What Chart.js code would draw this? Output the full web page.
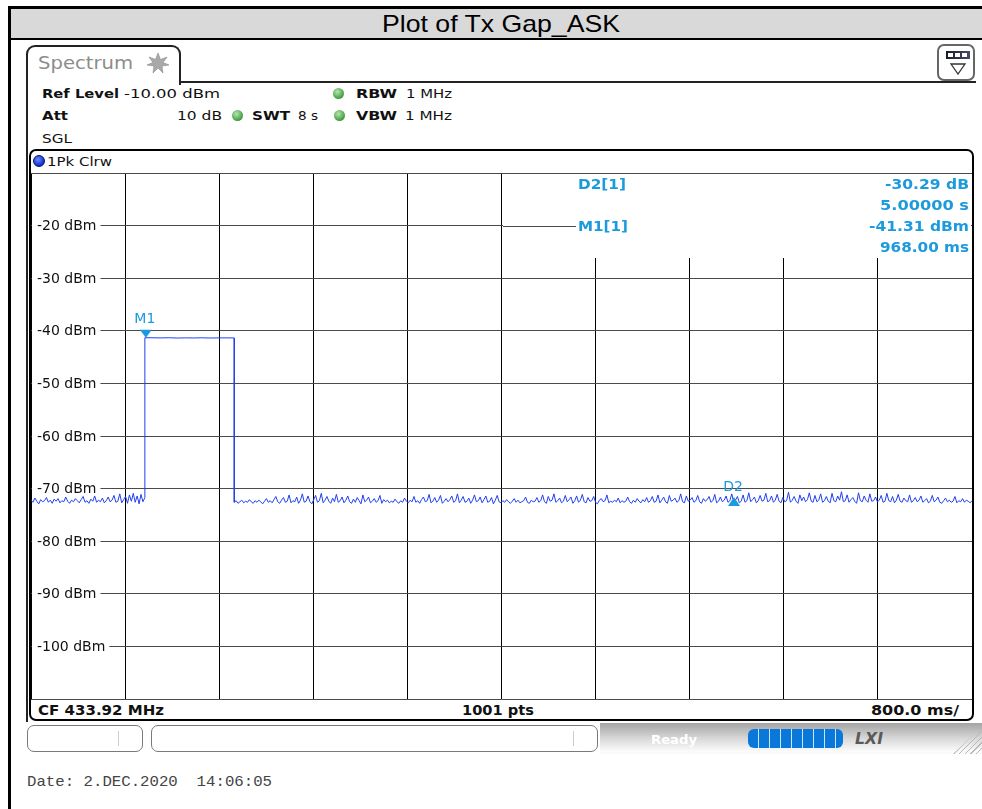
<!DOCTYPE html>
<html><head><meta charset="utf-8">
<script src="https://cdn.jsdelivr.net/npm/chart.js@4/dist/chart.umd.min.js"></script>
<style>
html,body{margin:0;padding:0;background:#fff;width:982px;height:809px;overflow:hidden;position:relative;font-family:"DejaVu Sans",sans-serif;}
.a{position:absolute;white-space:nowrap;}
.t{white-space:pre;}
.dot{position:absolute;width:11px;height:11px;border-radius:50%;background:radial-gradient(circle at 40% 35%,#b6e6b0,#3f9c3f 70%,#2f7a2f);}
</style></head><body>
<div class="a" style="left:8px;top:6px;width:990px;height:820px;border-left:3px solid #000;border-top:3px solid #000;"></div>
<div class="a" style="left:11px;top:9px;width:975px;height:29px;background:#d9d9d9;border-bottom:2px solid #000;"></div>

<div class="a" style="left:26px;top:45px;width:151px;height:38px;border:2px solid #222;border-bottom:none;border-radius:9px 9px 0 0;"></div>
<div class="a" style="left:180px;top:81px;width:796px;height:2px;background:#222;"></div>
<div class="a" style="left:26px;top:82px;width:2px;height:640px;background:#222;"></div>
<svg class="a" style="left:146px;top:52px" width="24" height="22" viewBox="0 0 24 22">
<polygon points="12,1 14.5,7.5 21,5 17,10.5 23,13 16,14 17,21 12,16 7,21 8,14 1,13 7,10.5 3,5 9.5,7.5" fill="#a9a9a9" stroke="#8a8a8a" stroke-width="0.6"/></svg>

<div class="a" style="left:937px;top:44px;width:34px;height:33px;border:2px solid #666;border-radius:7px;background:#fff;"></div>
<div class="a" style="left:946px;top:51px;width:24px;height:8px;background:linear-gradient(90deg,#1a1a2a,#4a4a66);"></div>
<div class="a" style="left:948px;top:53px;width:5px;height:4px;background:#fff;"></div>
<div class="a" style="left:955px;top:53px;width:5px;height:4px;background:#fff;"></div>
<div class="a" style="left:962px;top:53px;width:5px;height:4px;background:#fff;"></div>
<svg class="a" style="left:949px;top:62px" width="18" height="13"><polygon points="2,2 16,2 9,12" fill="#fff" stroke="#333" stroke-width="1.3"/></svg>

<div class="dot" style="left:333px;top:88px;"></div>
<div class="dot" style="left:232px;top:110px;"></div>
<div class="dot" style="left:334px;top:110px;"></div>

<div class="a" style="left:29px;top:149px;width:941px;height:568px;border:2px solid #000;border-radius:7px;"></div>
<div class="a" style="left:33px;top:155px;border-radius:50%;background:radial-gradient(circle at 40% 35%,#6f8bff,#1433d6 65%,#0a1c80);border:1px solid #081660;box-sizing:border-box;width:12px;height:12px;"></div>

<div class="a" style="left:24px;top:723px;width:958px;height:31px;background:linear-gradient(to bottom,#a4a4a4,#d8d8d8 50%,#fafafa 90%);"></div>
<div class="a" style="left:24px;top:723px;width:576px;height:31px;background:#fff;"></div>
<div class="a" style="left:27px;top:725px;width:114px;height:25px;border:1.5px solid #7a7a7a;border-radius:7px;background:#fff;"></div>
<div class="a" style="left:118px;top:731px;width:1px;height:15px;background:#ccc;"></div>
<div class="a" style="left:151px;top:725px;width:445px;height:25px;border:1.5px solid #7a7a7a;border-radius:7px;background:#fff;"></div>
<div class="a" style="left:573px;top:731px;width:1px;height:15px;background:#ccc;"></div>
<div class="a" style="left:748px;top:729px;width:95px;height:19px;border-radius:6px;background:repeating-linear-gradient(90deg,#0a78d8 0px,#0a78d8 9.8px,#cfe4f7 9.8px,#cfe4f7 11px);"></div>
<div class="a" style="left:953px;top:727px;width:29px;height:27px;background:repeating-linear-gradient(135deg,transparent 0px,transparent 3px,#b8b8b8 3px,#b8b8b8 4px);clip-path:polygon(100% 0,100% 100%,0 100%);"></div>

<div class="a" style="left:31px;top:173px;width:942px;height:527px;z-index:1;line-height:0;"><canvas id="c" width="942" height="527" style="display:block;width:942px;height:527px;"></canvas></div>

<script>
// ---- data ----
const yTickValues = [-20, -30, -40, -50, -60, -70, -80, -90, -100];
const yTickLabels = ['-20 dBm','-30 dBm','-40 dBm','-50 dBm','-60 dBm','-70 dBm','-80 dBm','-90 dBm','-100 dBm'];
const sweepStartS = 0;
const sweepEndS = 8.0;
const refLevelDbm = -10;
const bottomLevelDbm = -110;
const segmentStarts = [0, 0.968, 1.728];
const segmentEnds   = [0.968, 1.728, 8.0];
const preGapLevels = [
-72.2,-72.6,-71.8,-72.4,-72.9,-72.1,-72.5,-72.3,-71.7,-72.6,-72.2,-72.8,-72.0,-72.4,-71.9,-72.7,-72.3,-72.5,-71.6,-72.4,
-72.8,-72.2,-72.5,-71.9,-72.3,-72.7,-72.1,-71.5,-72.6,-72.3,-72.8,-72.0,-72.4,-71.4,-72.6,-72.2,-72.5,-71.8,-72.7,-72.3,
-71.6,-72.5,-72.2,-71.3,-72.6,-72.4,-71.0,-72.7,-72.1,-71.5,-72.8,-71.2,-72.4,-70.9,-72.6,-71.4,-72.9,-71.1,-72.5,-71.7];
const burstLevels = [-41.31,-41.33,-41.35,-41.32,-41.38,-41.34,-41.36,-41.33,-41.37,-41.35,-41.34,-41.36];
const postGapLevels = [
-72.6,-72.3,-72.8,-72.5,-72.2,-72.7,-72.4,-72.6,-72.1,-72.5,-72.8,-72.3,-72.6,-72.2,-72.5,-72.9,-72.4,-71.9,-72.6,-72.3,
-72.7,-72.1,-71.5,-72.5,-72.8,-72.2,-71.7,-72.6,-72.4,-71.2,-72.7,-72.3,-72.5,-71.6,-72.8,-72.2,-71.0,-72.6,-72.4,-71.4,
-72.5,-72.9,-72.1,-71.3,-72.6,-72.3,-70.9,-72.7,-72.2,-71.5,-72.4,-72.8,-71.8,-72.5,-71.1,-72.6,-72.3,-71.6,-72.7,-72.2,
-71.4,-72.5,-72.8,-72.0,-72.6,-71.7,-72.3,-72.9,-71.2,-72.5,-72.2,-71.6,-72.7,-72.4,-71.9,-72.6,-72.3,-71.3,-72.8,-72.1,
-72.5,-72.2,-72.7,-72.4,-72.6,-72.0,-72.5,-72.8,-72.3,-72.6,-71.8,-72.4,-72.7,-72.2,-72.5,-71.5,-72.6,-72.3,-72.8,-72.1,
-71.6,-72.5,-72.3,-71.1,-72.7,-72.4,-71.7,-72.6,-72.2,-71.3,-72.8,-72.4,-71.9,-72.5,-72.1,-71.4,-72.6,-72.3,-71.0,-72.7,
-72.2,-71.5,-72.6,-72.4,-71.8,-72.8,-72.2,-71.2,-72.5,-72.3,-71.6,-72.7,-72.1,-71.4,-72.6,-72.4,-71.7,-72.9,-72.2,-71.3,
-72.5,-72.7,-72.3,-72.6,-72.1,-72.5,-72.8,-72.4,-71.9,-72.6,-72.2,-72.7,-72.5,-72.3,-71.6,-72.6,-72.8,-72.2,-72.5,-72.4,
-71.7,-72.6,-72.3,-71.2,-72.5,-72.8,-71.5,-72.4,-72.2,-71.0,-72.6,-72.3,-71.8,-72.7,-72.4,-71.3,-72.5,-72.1,-71.6,-72.8,
-72.3,-71.4,-72.6,-72.2,-71.1,-72.5,-72.7,-71.7,-72.4,-72.3,-71.5,-72.6,-72.9,-72.2,-71.9,-72.5,-72.3,-71.2,-72.7,-72.4,
-72.6,-72.2,-72.5,-71.8,-72.7,-72.3,-72.6,-72.4,-71.6,-72.5,-72.8,-72.2,-72.6,-71.9,-72.4,-72.7,-72.1,-72.5,-71.7,-72.6,
-72.3,-71.5,-72.6,-72.4,-71.2,-72.7,-72.2,-71.6,-72.5,-72.8,-71.3,-72.4,-72.2,-71.8,-72.6,-72.3,-71.0,-72.5,-72.7,-71.4,
-72.4,-72.2,-71.7,-72.6,-72.3,-71.3,-72.5,-72.8,-71.9,-72.4,-72.1,-71.5,-72.6,-72.3,-71.1,-72.7,-72.4,-71.6,-72.5,-72.2,
-71.4,-72.6,-72.3,-71.0,-72.5,-72.2,-71.5,-72.7,-72.4,-71.2,-72.6,-72.3,-70.8,-72.5,-72.1,-71.6,-72.7,-72.3,-71.3,-72.4,
-72.2,-70.9,-72.5,-72.3,-71.4,-72.6,-72.2,-71.1,-72.4,-72.7,-71.7,-72.5,-72.3,-70.7,-72.6,-72.2,-71.5,-72.4,-72.8,-71.2,
-72.3,-71.6,-72.5,-72.1,-70.8,-72.4,-72.6,-71.3,-72.5,-72.2,-71.0,-72.6,-72.3,-71.5,-72.4,-72.7,-70.9,-72.3,-72.5,-71.4,
-72.2,-70.6,-72.5,-72.3,-71.2,-72.6,-72.1,-71.7,-72.4,-72.8,-70.8,-72.3,-72.5,-71.4,-72.2,-72.6,-71.0,-72.4,-72.3,-71.6,
-72.5,-72.2,-71.3,-72.6,-72.4,-70.9,-72.3,-72.5,-71.5,-72.7,-72.2,-71.1,-72.4,-72.6,-71.8,-72.3,-72.5,-71.2,-72.6,-72.3,
-71.7,-72.5,-72.2,-71.4,-72.6,-72.3,-71.9,-72.7,-72.4,-71.3,-72.5,-72.2,-71.6,-72.6,-72.8,-72.3,-71.8,-72.5,-72.2,-72.6,
-72.4,-71.5,-72.7,-72.3,-72.5,-71.9,-72.6,-72.2,-72.4,-72.7,-72.3];
const markerNames = ['M1', 'D2'];
const markerTimesS = [0.968, 5.968];
const markerLevelsDbm = [-41.31, -71.60];
const readoutNames = ['D2[1]', 'M1[1]'];
const readoutValues = ['-30.29 dB', '-41.31 dBm'];
const readoutTimes = ['5.00000 s', '968.00 ms'];

// ---- build trace points ----
const segLevels = [preGapLevels, burstLevels, postGapLevels];
const tracePoints = [];
segLevels.forEach((arr, s) => {
  const n = arr.length;
  arr.forEach((v, i) => {
    tracePoints.push({x: segmentStarts[s] + (segmentEnds[s] - segmentStarts[s]) * i / (n - 1), y: v});
  });
});

const markerColor = '#1c9ade';

function fitText(ctx, txt, x, y, w, align) {
  const m = ctx.measureText(txt).width;
  ctx.save();
  ctx.translate(align === 'right' ? x - w : x, y);
  ctx.scale(w / m, 1);
  ctx.textAlign = 'left';
  ctx.fillText(txt, 0, 0);
  ctx.restore();
}

const overlay = {
  id: 'overlay',
  beforeDatasetsDraw(chart) {
    const {ctx, chartArea: a, scales: {x, y}} = chart;
    ctx.save();
    ctx.font = '14px "DejaVu Sans"';
    ctx.textBaseline = 'middle';
    yTickValues.forEach((v, i) => {
      const py = y.getPixelForValue(v);
      const w = ctx.measureText(yTickLabels[i]).width;
      ctx.fillStyle = '#fff';
      ctx.fillRect(a.left + 1, py - 8, 5 + w + 4, 16);
      ctx.fillStyle = '#111';
      ctx.fillText(yTickLabels[i], a.left + 6, py + 1);
    });
    // marker readout area
    const bx = Math.round(x.getPixelForValue(4.0)) + 1;
    ctx.fillStyle = '#fff';
    ctx.fillRect(bx, a.top + 1, a.right - 1 - bx, 84);
    const y20 = Math.round(y.getPixelForValue(-20)) + 0.5;
    ctx.strokeStyle = '#4a4a4a'; ctx.lineWidth = 1;
    ctx.beginPath(); ctx.moveTo(bx, y20); ctx.lineTo(a.left + 545, y20); ctx.stroke();
    ctx.fillStyle = markerColor;
    ctx.font = 'bold 14px "DejaVu Sans"';
    const rows = [12, 33, 54, 75];
    fitText(ctx, readoutNames[0], a.left + 547, a.top + rows[0], 48);
    fitText(ctx, readoutValues[0], a.right - 3, a.top + rows[0], 84, 'right');
    fitText(ctx, readoutTimes[0], a.right - 3, a.top + rows[1], 89, 'right');
    fitText(ctx, readoutNames[1], a.left + 547, a.top + rows[2], 50);
    fitText(ctx, readoutValues[1], a.right - 3, a.top + rows[2], 100, 'right');
    fitText(ctx, readoutTimes[1], a.right - 3, a.top + rows[3], 89, 'right');
    ctx.restore();
  },
  afterDatasetsDraw(chart) {
    const {ctx, scales: {x, y}} = chart;
    ctx.save();
    ctx.fillStyle = markerColor;
    ctx.font = '14px "DejaVu Sans"';
    ctx.textBaseline = 'middle';
    ctx.textAlign = 'center';
    markerNames.forEach((name, i) => {
      const px = x.getPixelForValue(markerTimesS[i]) + 1;
      const py = y.getPixelForValue(markerLevelsDbm[i]);
      ctx.beginPath();
      if (name === 'M1') {
        ctx.moveTo(px, py); ctx.lineTo(px - 6, py - 8); ctx.lineTo(px + 6, py - 8);
        ctx.closePath(); ctx.fill();
        ctx.fillText(name, px - 1, py - 18);
      } else {
        ctx.moveTo(px, py); ctx.lineTo(px - 6, py + 9); ctx.lineTo(px + 6, py + 9);
        ctx.closePath(); ctx.fill();
        ctx.fillText(name, px - 1, py - 10);
      }
    });
    ctx.restore();
  }
};

new Chart(document.getElementById('c'), {
  type: 'line',
  data: {
    datasets: [{
      data: tracePoints,
      borderColor: '#2040f0',
      borderWidth: 1,
      pointRadius: 0,
      tension: 0,
      fill: false
    }]
  },
  options: {
    responsive: false,
    animation: false,
    events: [],
    layout: {padding: {left: 0, top: 0, right: 1, bottom: 1}},
    plugins: {legend: {display: false}, tooltip: {enabled: false}},
    scales: {
      x: {
        type: 'linear', min: sweepStartS, max: sweepEndS,
        ticks: {display: false, stepSize: 0.8},
        grid: {color: '#000', drawTicks: false, lineWidth: 1},
        border: {display: false},
        afterFit(s) { s.height = 0; }
      },
      y: {
        min: bottomLevelDbm, max: refLevelDbm,
        ticks: {display: false, stepSize: 10},
        grid: {color: '#4a4a4a', drawTicks: false, lineWidth: 1},
        border: {display: false},
        afterFit(s) { s.width = 0; }
      }
    }
  },
  plugins: [overlay]
});

// ---- HTML text, scaled to the reference widths ----
function T(txt, left, cy, width, font, color, align) {
  const s = document.createElement('div');
  s.className = 'a t';
  s.textContent = txt;
  s.style.font = font;
  s.style.color = color;
  s.style.lineHeight = '1';
  s.style.zIndex = 3;
  document.body.appendChild(s);
  const r = s.getBoundingClientRect();
  const l = align === 'right' ? left - width : (align === 'center' ? left - width / 2 : left);
  s.style.left = l + 'px';
  s.style.top = (cy - r.height / 2) + 'px';
  if (width) {
    s.style.transformOrigin = '0 50%';
    s.style.transform = 'scaleX(' + (width / r.width) + ')';
  }
}
const F = '"DejaVu Sans",sans-serif';
T('Plot of Tx Gap_ASK', 501, 24, 238, '24px "Liberation Sans",Arial,sans-serif', '#000', 'center');
T('Spectrum', 38, 63, 95, '17px ' + F, '#8c8c8c');
T('Ref Level', 42, 93, 77, 'bold 13px ' + F, '#111');
T('-10.00 dBm', 124, 93, 96, '13px ' + F, '#111');
T('RBW', 356, 93, 41, 'bold 13px ' + F, '#111');
T('1 MHz', 406, 93, 46, '13px ' + F, '#111');
T('Att', 42, 115, 26, 'bold 13px ' + F, '#111');
T('10 dB', 177, 115, 45, '13px ' + F, '#111');
T('SWT', 252, 115, 38, 'bold 13px ' + F, '#111');
T('8 s', 298, 115, 20, '13px ' + F, '#111');
T('VBW', 356, 115, 41, 'bold 13px ' + F, '#111');
T('1 MHz', 405, 115, 47, '13px ' + F, '#111');
T('SGL', 42, 138, 30, '13px ' + F, '#111');
T('1Pk Clrw', 47, 161, 65, '13px ' + F, '#111');
T('CF 433.92 MHz', 38, 710, 126, 'bold 14px ' + F, '#111');
T('1001 pts', 462, 710, 72, 'bold 14px ' + F, '#111');
T('800.0 ms/', 959, 710, 88, 'bold 14px ' + F, '#111', 'right');
T('Ready', 651, 739, 46, 'bold 13px ' + F, '#fff');
T('LXI', 855, 739, 28, 'italic bold 15px ' + F, '#5a5a5a');
T('Date: 2.DEC.2020  14:06:05', 27, 782, 245, '15px "Liberation Mono",monospace', '#444');
</script>
</body></html>
